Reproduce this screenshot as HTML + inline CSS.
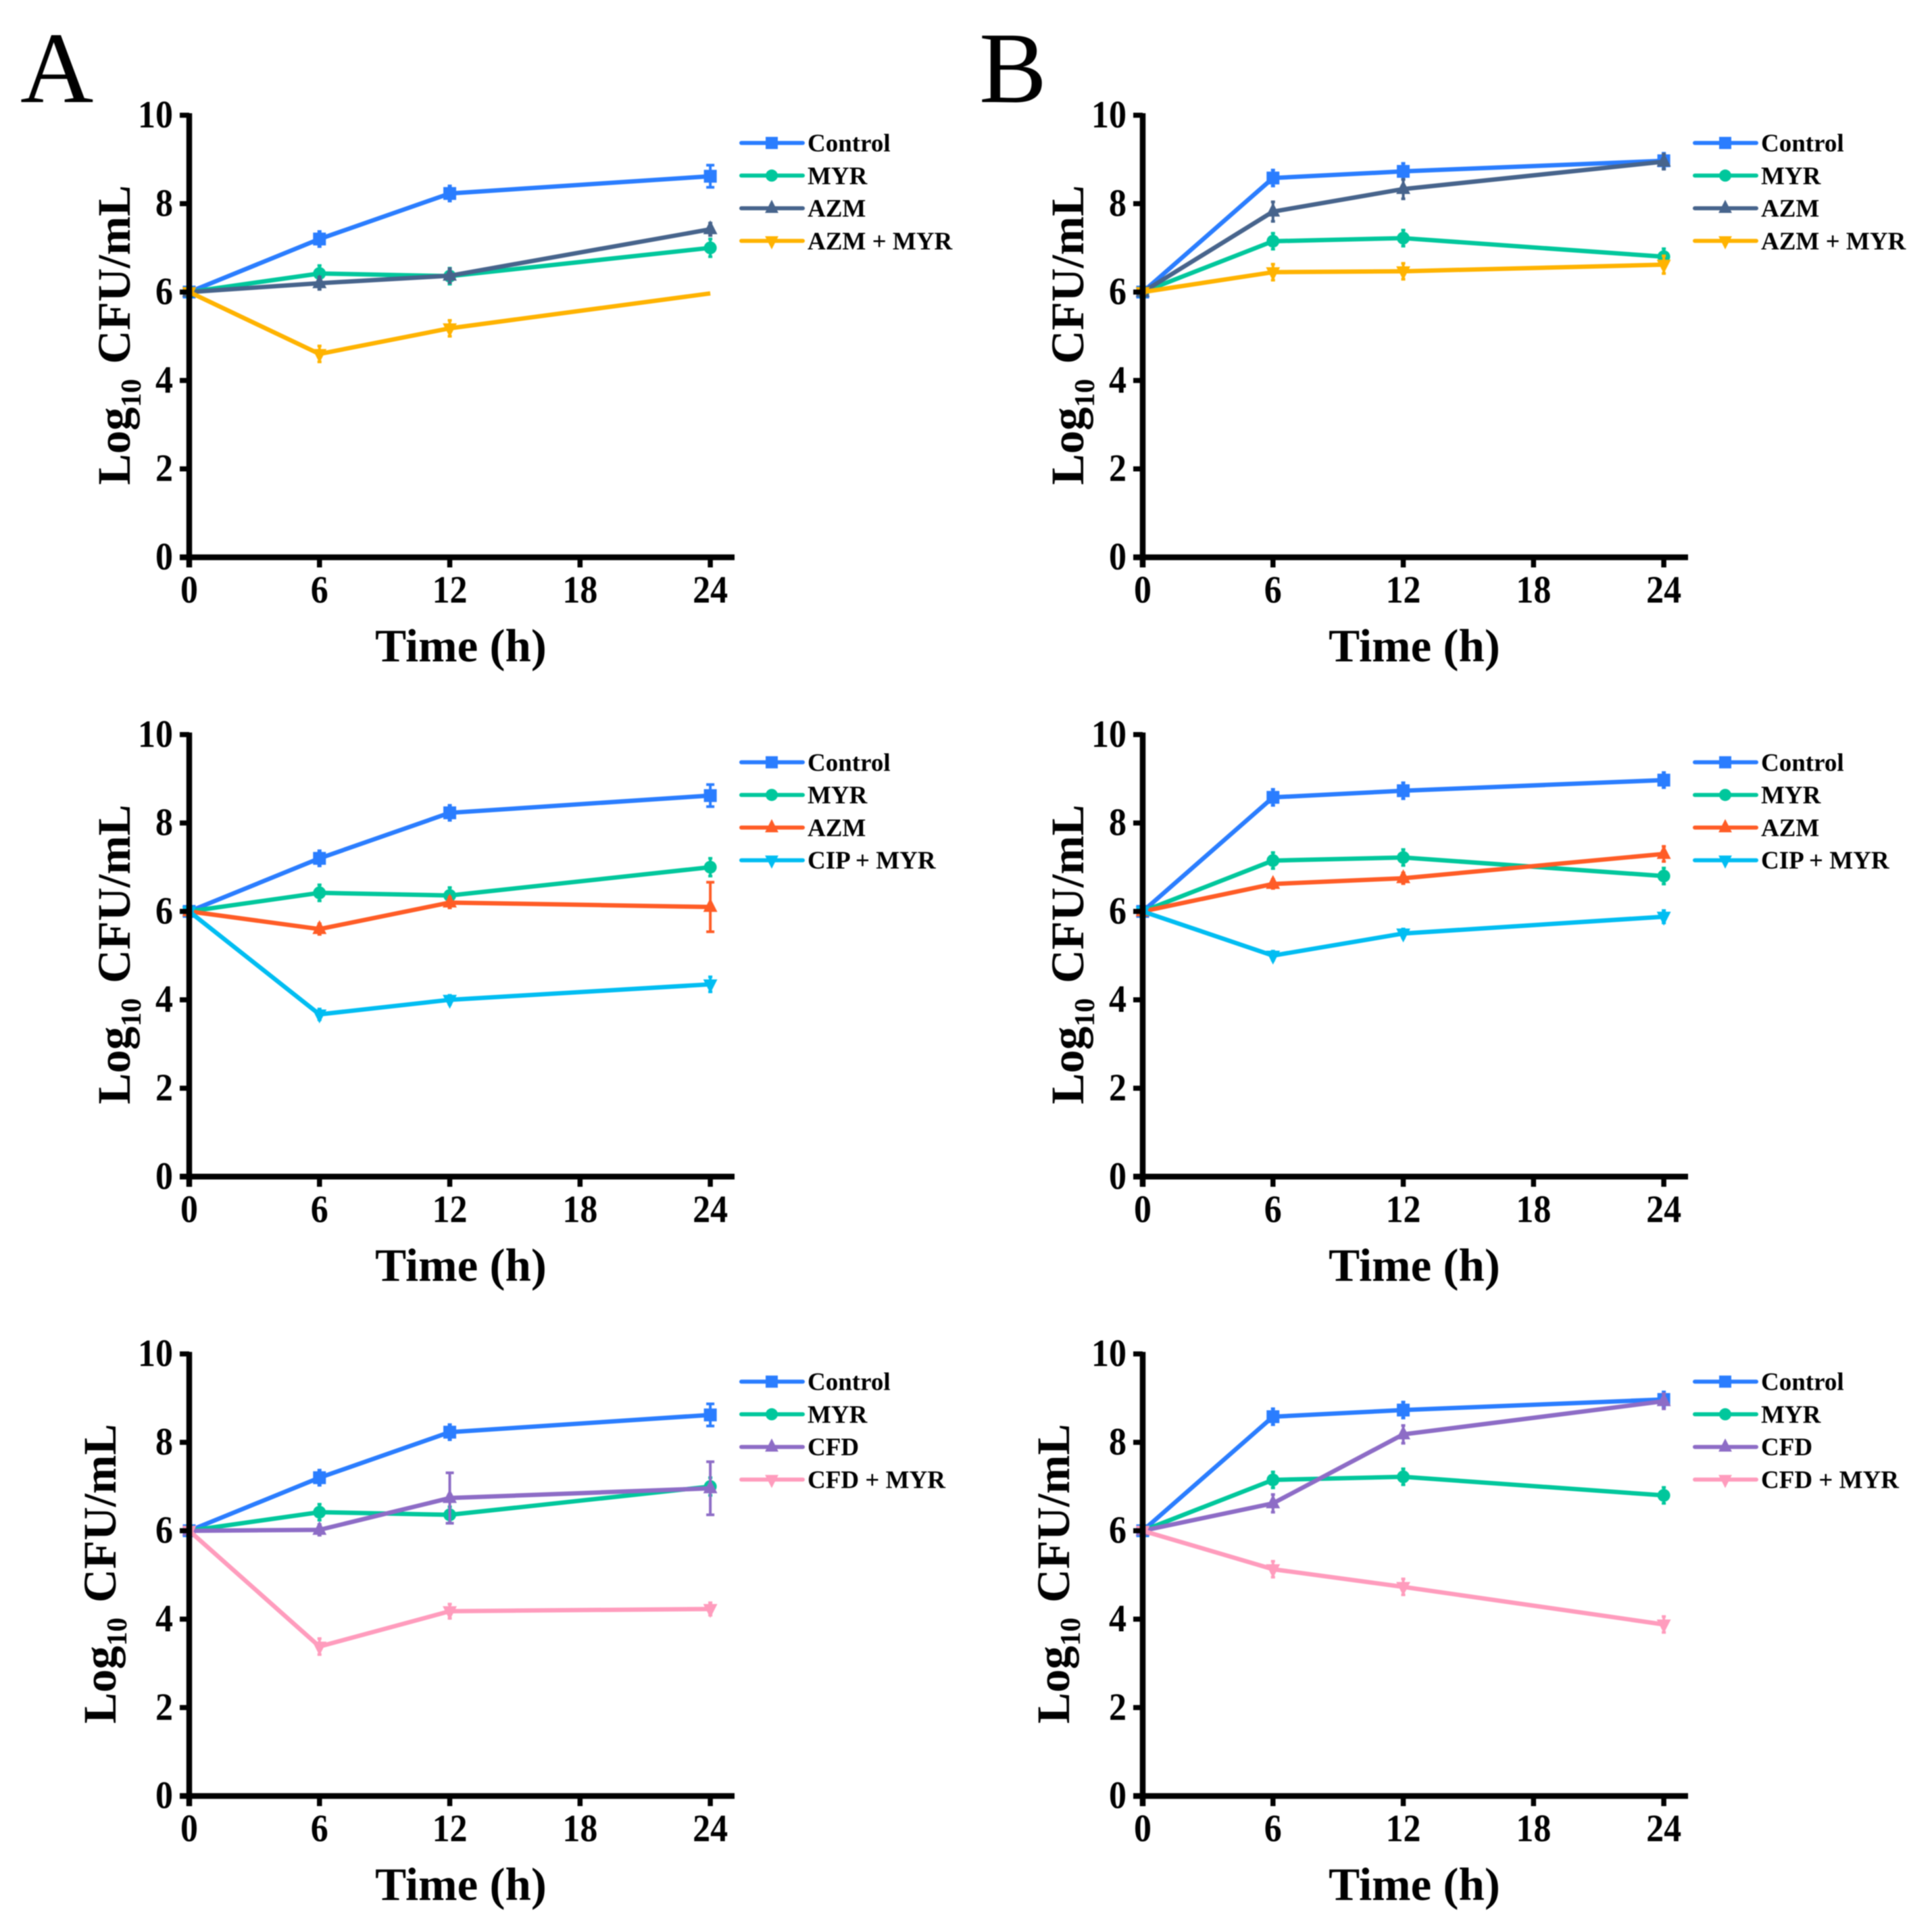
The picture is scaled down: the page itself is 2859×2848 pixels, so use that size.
<!DOCTYPE html>
<html lang="en">
<head>
<meta charset="utf-8">
<title>Time-kill curves</title>
<style>
html,body{margin:0;padding:0;background:#fff;}
body{width:2859px;height:2848px;overflow:hidden;}
svg{display:block;font-family:"Liberation Serif",serif;filter:blur(0.7px);}
text{fill:#000;}
.tick{font-weight:700;font-size:52px;}
.axis-title{font-weight:700;font-size:69px;}
.legend-label{font-weight:700;font-size:37px;}
.panel-letter{font-weight:400;font-size:150px;}
</style>
</head>
<body>
<svg id="figure" xmlns="http://www.w3.org/2000/svg" width="2859" height="2848" viewBox="0 0 2859 2848">
  <rect width="2859" height="2848" fill="#fff"/>
  <text class="panel-letter" x="30" y="151">A</text>
  <text class="panel-letter" x="1449" y="151">B</text>
</svg>
<script>
const timePoints = [0, 6, 12, 24];
const xTickLabels = [0, 6, 12, 18, 24];
const yTickLabels = [0, 2, 4, 6, 8, 10];

const controlA = [6, 7.2, 8.23, 8.62];
const controlAErr = [0, 0.17, 0.17, 0.25];
const myrA = [6, 6.42, 6.36, 7.0];
const myrAErr = [0, 0.18, 0.18, 0.2];
const controlB = [6, 8.58, 8.73, 8.97];
const controlBErr = [0, 0.18, 0.18, 0.17];
const myrB = [6, 7.15, 7.22, 6.8];
const myrBErr = [0, 0.18, 0.18, 0.18];

const azmA1 = [6, 6.2, 6.37, 7.42];
const azmA1Err = [0, 0.14, 0.16, 0.14];
const azmMyrA1 = [6, 4.6, 5.18, 5.97];
const azmMyrA1Err = [0, 0.18, 0.18, 0];
const azmB1 = [6, 7.82, 8.33, 8.95];
const azmB1Err = [0, 0.22, 0.22, 0.17];
const azmMyrB1 = [6, 6.45, 6.47, 6.62];
const azmMyrB1Err = [0, 0.18, 0.18, 0.2];

const azmA2 = [6, 5.6, 6.2, 6.1];
const azmA2Err = [0, 0.12, 0.12, 0.56];
const cipMyrA2 = [6, 3.67, 4.0, 4.35];
const cipMyrA2Err = [0, 0.12, 0.1, 0.17];
const azmB2 = [6, 6.62, 6.75, 7.3];
const azmB2Err = [0, 0.1, 0.12, 0.17];
const cipMyrB2 = [6, 5.0, 5.5, 5.88];
const cipMyrB2Err = [0, 0.1, 0.1, 0.14];

const cfdA3 = [6, 6.02, 6.74, 6.96];
const cfdA3Err = [0, 0.12, 0.57, 0.6];
const cfdMyrA3 = [6, 3.38, 4.18, 4.23];
const cfdMyrA3Err = [0, 0.18, 0.16, 0.14];
const cfdB3 = [6, 6.62, 8.18, 8.93];
const cfdB3Err = [0, 0.2, 0.2, 0.17];
const cfdMyrB3 = [6, 5.13, 4.73, 3.88];
const cfdMyrB3Err = [0, 0.18, 0.18, 0.18];

const BLUE = '#2a7dff', GREEN = '#00c79c', SLATE = '#47648c', AMBER = '#ffb300',
      ORANGE = '#ff5c26', CYAN = '#00bdf2', PURPLE = '#8d6cc6', PINK = '#ff9cbd';

const panels = [
  {id:'a1', col:0, row:0, labelShift:0, series:[
    {name:'Control', color:BLUE, shape:'square', values:controlA, errs:controlAErr},
    {name:'MYR', color:GREEN, shape:'circle', values:myrA, errs:myrAErr},
    {name:'AZM', color:SLATE, shape:'up', values:azmA1, errs:azmA1Err},
    {name:'AZM + MYR', color:AMBER, shape:'down', values:azmMyrA1, errs:azmMyrA1Err, noLastMarker:true}]},
  {id:'b1', col:1, row:0, labelShift:0, series:[
    {name:'Control', color:BLUE, shape:'square', values:controlB, errs:controlBErr},
    {name:'MYR', color:GREEN, shape:'circle', values:myrB, errs:myrBErr},
    {name:'AZM', color:SLATE, shape:'up', values:azmB1, errs:azmB1Err},
    {name:'AZM + MYR', color:AMBER, shape:'down', values:azmMyrB1, errs:azmMyrB1Err}]},
  {id:'a2', col:0, row:1, labelShift:0, series:[
    {name:'Control', color:BLUE, shape:'square', values:controlA, errs:controlAErr},
    {name:'MYR', color:GREEN, shape:'circle', values:myrA, errs:myrAErr},
    {name:'AZM', color:ORANGE, shape:'up', values:azmA2, errs:azmA2Err},
    {name:'CIP + MYR', color:CYAN, shape:'down', values:cipMyrA2, errs:cipMyrA2Err}]},
  {id:'b2', col:1, row:1, labelShift:0, series:[
    {name:'Control', color:BLUE, shape:'square', values:controlB, errs:controlBErr},
    {name:'MYR', color:GREEN, shape:'circle', values:myrB, errs:myrBErr},
    {name:'AZM', color:ORANGE, shape:'up', values:azmB2, errs:azmB2Err},
    {name:'CIP + MYR', color:CYAN, shape:'down', values:cipMyrB2, errs:cipMyrB2Err}]},
  {id:'a3', col:0, row:2, labelShift:-21, series:[
    {name:'Control', color:BLUE, shape:'square', values:controlA, errs:controlAErr},
    {name:'MYR', color:GREEN, shape:'circle', values:myrA, errs:myrAErr},
    {name:'CFD', color:PURPLE, shape:'up', values:cfdA3, errs:cfdA3Err},
    {name:'CFD + MYR', color:PINK, shape:'down', values:cfdMyrA3, errs:cfdMyrA3Err}]},
  {id:'b3', col:1, row:2, labelShift:-21, series:[
    {name:'Control', color:BLUE, shape:'square', values:controlB, errs:controlBErr},
    {name:'MYR', color:GREEN, shape:'circle', values:myrB, errs:myrBErr},
    {name:'CFD', color:PURPLE, shape:'up', values:cfdB3, errs:cfdB3Err},
    {name:'CFD + MYR', color:PINK, shape:'down', values:cfdMyrB3, errs:cfdMyrB3Err}]}
];

const SVG_NS = 'http://www.w3.org/2000/svg';
const root = document.getElementById('figure');

function make(tag, attrs, parent, text) {
  const node = document.createElementNS(SVG_NS, tag);
  for (const key in attrs) node.setAttribute(key, attrs[key]);
  if (text !== undefined) node.textContent = text;
  parent.appendChild(node);
  return node;
}
function slug(s) {
  return s.toLowerCase().replace(/[^a-z0-9]+/g, '-');
}
function markerShape(shape, cx, cy, r, color, parent) {
  if (shape === 'square') {
    return make('rect', {x:cx - r, y:cy - r, width:2 * r, height:2 * r, fill:color}, parent);
  }
  if (shape === 'circle') {
    return make('circle', {cx:cx, cy:cy, r:r, fill:color}, parent);
  }
  const dir = shape === 'up' ? -1 : 1;
  const h = r * 1.4;
  const pts = [[cx - r * 1.1, cy - dir * h * 0.55], [cx + r * 1.1, cy - dir * h * 0.55], [cx, cy + dir * h]];
  return make('polygon', {points:pts.map(p => p.join(',')).join(' '), fill:color}, parent);
}

function drawPanel(panel) {
  const x0 = 280 + panel.col * 1411;
  const yBase = 824.5 + panel.row * 916.3;
  const xUnit = 32.13;
  const yUnit = 65.4;
  const xScale = t => x0 + t * xUnit;
  const yScale = v => yBase - v * yUnit;

  const g = make('g', {}, root);
  
  

  panel.series.forEach(s => {
    const group = make('g', {}, g);
    
    

    const line = make('polyline', {
      points:timePoints.map((t, i) => xScale(t) + ',' + yScale(s.values[i])).join(' '),
      fill:'none', stroke:s.color, 'stroke-width':6.5, 'stroke-linejoin':'round'
    }, group);
    
    

    timePoints.forEach((t, i) => {
      const cx = xScale(t), cy = yScale(s.values[i]), e = s.errs[i] * yUnit;
      if (e > 0) {
        const cap = e < 16 ? 3 : 6;
        const bar = make('path', {
          d:'M' + cx + ' ' + (cy - e) + 'V' + (cy + e) +
            'M' + (cx - cap) + ' ' + (cy - e) + 'H' + (cx + cap) +
            'M' + (cx - cap) + ' ' + (cy + e) + 'H' + (cx + cap),
          fill:'none', stroke:s.color, 'stroke-width':4
        }, group);
        
        
      }
      if (s.noLastMarker && i === timePoints.length - 1) return;
      const point = markerShape(s.shape, cx, cy, 9.5, s.color, group);
      
      
    });
  });

  const axes = make('g', {stroke:'#000', 'stroke-width':8.5, fill:'none'}, g);
  
  

  const yAxis = make('line', {x1:x0, x2:x0, y1:yScale(10) - 3, y2:yBase + 15}, axes);
  
  

  const xAxis = make('line', {x1:x0 - 14, x2:x0 + 807, y1:yBase, y2:yBase}, axes);
  
  

  yTickLabels.forEach(v => {
    const tick = make('line', {x1:x0 - 14, x2:x0, y1:yScale(v), y2:yScale(v), 'stroke-width':7.5}, axes);
    
    
    const label = make('text', {class:'tick', transform:'translate(' + (x0 - 24) + ',' + (yScale(v) + 18) + ') scale(1,1.09)', 'text-anchor':'end'}, g, String(v));
    
    
  });
  xTickLabels.forEach(t => {
    const tick = make('line', {x1:xScale(t), x2:xScale(t), y1:yBase, y2:yBase + 15, 'stroke-width':7.5}, axes);
    
    
    const label = make('text', {class:'tick', transform:'translate(' + xScale(t) + ',' + (yBase + 67) + ') scale(1,1.09)', 'text-anchor':'middle'}, g, String(t));
    
    
  });

  const xTitle = make('text', {class:'axis-title', x:x0 + 402, y:yBase + 154, 'text-anchor':'middle'}, g, 'Time (h)');
  
  

  const yTitle = make('text', {class:'axis-title', transform:'translate(' + (x0 - 88 + panel.labelShift) + ',' + (yBase - 107) + ') rotate(-90)'}, g);
  
  
  make('tspan', {}, yTitle, 'Log');
  make('tspan', {dy:16, 'font-size':42}, yTitle, '10');
  make('tspan', {dy:-16, dx:22}, yTitle, 'CFU/mL');

  const legend = make('g', {}, g);
  
  
  panel.series.forEach((s, i) => {
    const ly = yBase - 654 + 41 + i * 48.3;
    const entry = make('g', {}, legend);
    
    
    make('line', {x1:x0 + 817, x2:x0 + 908, y1:ly, y2:ly, stroke:s.color, 'stroke-width':6, 'stroke-linecap':'round'}, entry);
    markerShape(s.shape, x0 + 862, ly, 9, s.color, entry);
    const label = make('text', {class:'legend-label', x:x0 + 915, y:ly + 12.5}, entry, s.name);
    
    
  });
}

panels.forEach(drawPanel);
</script>
</body>
</html>
